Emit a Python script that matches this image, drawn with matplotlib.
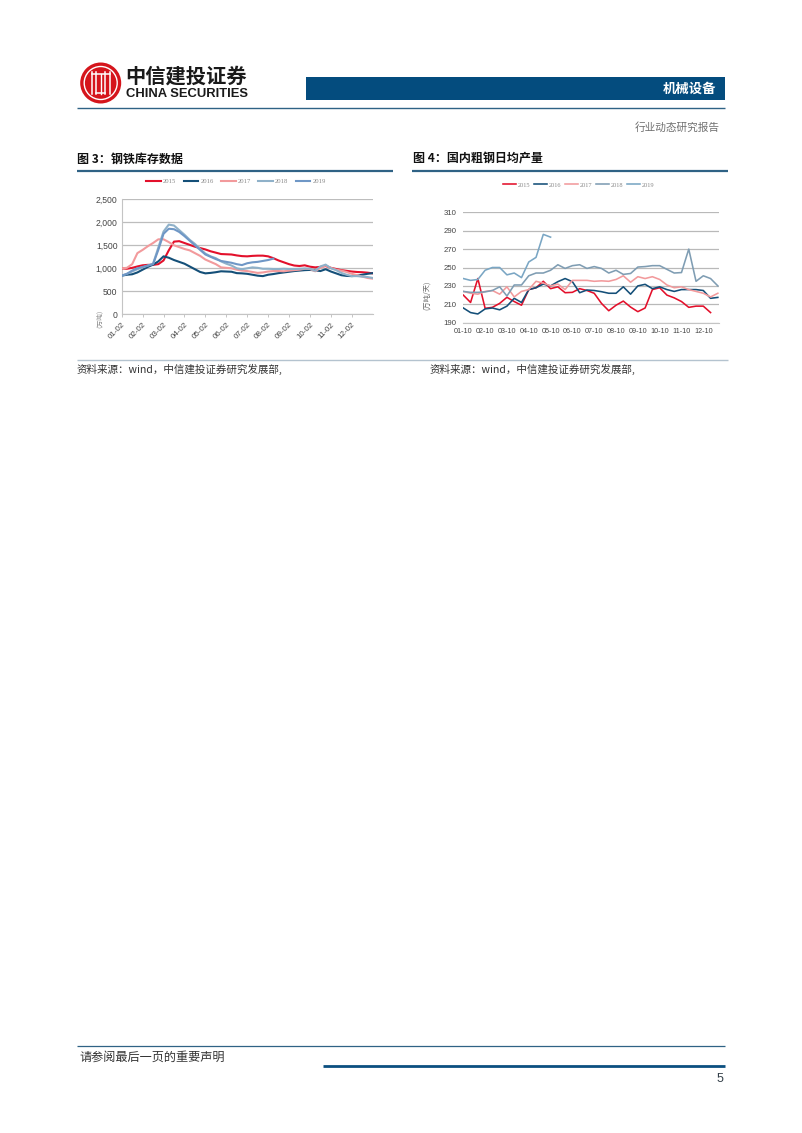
import matplotlib
matplotlib.use('Agg')
import matplotlib.pyplot as plt
from matplotlib.patches import Circle, Rectangle

plt.rcParams['font.family'] = ['Liberation Sans', 'Noto Sans CJK SC', 'DejaVu Sans']
CJK = ['Noto Sans CJK SC', 'DejaVu Sans']
W, H = 802, 1133

# ---- Figure 3: steel inventory (quarter-month samples) ----
inv_months = [i * 0.25 for i in range(49)]
inv_2015 = [1000, 990, 1010, 1040, 1065, 1075, 1075, 1090, 1170, 1390, 1580, 1590,
            1550, 1510, 1470, 1440, 1410, 1370, 1340, 1310, 1305, 1300, 1280, 1265,
            1260, 1270, 1275, 1275, 1260, 1220, 1170, 1130, 1090, 1060, 1050, 1065,
            1035, 1020, 1030, 1050, 1010, 985, 960, 945, 930, 920, 915, 905, 890]
inv_2016 = [840, 860, 870, 910, 970, 1030, 1080, 1150, 1260, 1230, 1180, 1140,
            1100, 1040, 980, 920, 890, 900, 915, 935, 930, 925, 895, 890,
            880, 860, 840, 830, 860, 875, 895, 910, 925, 940, 950, 960,
            965, 955, 940, 980, 930, 890, 850, 835, 830, 840, 860, 880, 895]
inv_2017 = [1000, 1010, 1090, 1330, 1400, 1480, 1550, 1630, 1630, 1570, 1500, 1460,
            1420, 1390, 1330, 1270, 1190, 1140, 1090, 1020, 1010, 1000, 970, 950,
            940, 920, 900, 910, 930, 940, 940, 935, 950, 960, 970, 990,
            985, 935, 1010, 1060, 1010, 970, 950, 920, 880, 850, 820, 790, 775]
inv_2018 = [840, 880, 930, 980, 1020, 1060, 1100, 1450, 1800, 1950, 1930, 1830,
            1730, 1620, 1530, 1420, 1320, 1260, 1220, 1150, 1100, 1060, 1000, 980,
            1000, 1020, 1010, 990, 990, 985, 985, 990, 985, 985, 990, 995,
            990, 945, 1040, 1080, 1000, 960, 900, 860, 830, 830, 820, 810, 790]
inv_2019 = [840, 880, 950, 1000, 1030, 1060, 1090, 1400, 1750, 1860, 1850, 1790,
            1700, 1600, 1500, 1400, 1300, 1250, 1200, 1160, 1140, 1120, 1090, 1070,
            1110, 1130, 1140, 1160, 1180, 1210]
inv_ticks = ['01-02', '02-02', '03-02', '04-02', '05-02', '06-02',
             '07-02', '08-02', '09-02', '10-02', '11-02', '12-02']
inv_yticks = [0, 500, 1000, 1500, 2000, 2500]
inv_ylabels = ['0', '500', '1,000', '1,500', '2,000', '2,500']

# ---- Figure 4: daily crude steel output (ten-day samples) ----
out_2015 = [220, 212, 238, 205.6, 206.7, 211, 217.6, 213, 209, 226, 228, 235,
            227, 229, 222.6, 223, 227, 225, 222, 211, 203, 209, 213.5, 207,
            202, 206, 226, 228, 220, 217, 213, 206.7, 208, 208, 201]
out_2016 = [206, 201, 199.5, 205, 206, 204, 208, 216.5, 212, 226, 228, 232,
            230, 234.6, 238, 234.6, 222.6, 225.5, 225, 223.7, 222, 222, 229, 221,
            230, 231.7, 227, 229, 226, 224, 226, 226, 226, 225, 216.5, 217.5]
out_2017 = [224, 222, 221, 224, 225, 221, 229, 218, 224, 226, 235, 233,
            230, 232, 226, 236, 236, 236, 235, 235.5, 235, 237, 241, 234,
            240, 238, 240, 237, 231, 228, 229, 226, 224, 222, 218, 222]
out_2018 = [224, 223, 223, 223.5, 225, 229, 219, 231, 231, 241, 244, 244,
            247, 253, 249, 252, 253, 249, 251, 249, 244, 247, 242.5, 243.5,
            250.5, 251, 252, 252, 248, 244, 244.5, 270, 235, 241, 238, 230]
out_2019 = [238, 236, 237, 247, 250, 250, 242, 244, 239, 256, 261, 286, 283]
out_ticks = ['01-10', '02-10', '03-10', '04-10', '05-10', '06-10',
             '07-10', '08-10', '09-10', '10-10', '11-10', '12-10']
out_yticks = [190, 210, 230, 250, 270, 290, 310]
years = ['2015', '2016', '2017', '2018', '2019']

fig = plt.figure(figsize=(W / 100, H / 100), dpi=100, facecolor='white')

def px_axes(x0, y0, x1, y1):
    return fig.add_axes([x0 / W, 1 - y1 / H, (x1 - x0) / W, (y1 - y0) / H])

# page overlay in pixel coordinates
pg = fig.add_axes([0, 0, 1, 1], zorder=0)
pg.set_xlim(0, W); pg.set_ylim(H, 0); pg.axis('off')

def rule(x0, x1, y, c='#2f6285', lw=1.0):
    pg.plot([x0, x1], [y, y], color=c, lw=lw, solid_capstyle='butt')

# logo
pg.add_patch(Circle((100.7, 83), 20.5, fc='#d5151c', ec='none'))
pg.add_patch(Circle((100.7, 83), 16.5, fc='none', ec='white', lw=1.0))
for dx in (-9, -4.5, 4.5, 9):
    pg.plot([100.7 + dx, 100.7 + dx], [72, 94], color='white', lw=1.1)
pg.plot([91.7, 109.7], [73.5, 73.5], color='white', lw=1.1)
pg.plot([96.2, 105.2], [92.5, 92.5], color='white', lw=1.1)
pg.add_patch(Rectangle((96.9, 76), 7.6, 20, fc='#d5151c', ec='none'))
pg.plot([100.7, 100.7], [74, 94], color='white', lw=1.0)
pg.text(125, 76.5, '中信建投证券', family=CJK, fontsize=14.6, fontweight='bold',
        color='#1a1a1a', va='center', ha='left')
pg.text(125.5, 94, 'CHINA SECURITIES', fontsize=9.35, fontweight='bold',
        color='#1a1a1a', va='center', ha='left')

# header
pg.add_patch(Rectangle((306, 77), 419, 23, fc='#044c7e', ec='none'))
pg.text(716, 89, '机械设备', family=CJK, fontsize=9.6, fontweight='bold', color='white',
        va='center', ha='right')
rule(77, 725, 107.5, lw=1.0)
pg.text(720, 127, '行业动态研究报告', family=CJK, fontsize=7.7, color='#707070',
        va='center', ha='right')

# section titles
pg.text(77, 159, '图 3：钢铁库存数据', family=CJK, fontsize=8.65, fontweight='bold',
        color='#111111', va='center', ha='left')
pg.text(413, 159, '图 4：国内粗钢日均产量', family=CJK, fontsize=8.65, fontweight='bold',
        color='#111111', va='center', ha='left')
rule(77, 393, 170.5, lw=1.6)
rule(412, 728, 170.5, lw=1.6)

# sources
rule(77, 728, 359.5, c='#b4c3cf', lw=1.0)
pg.text(77, 369.5, '资料来源：wind，中信建投证券研究发展部,', family=CJK, fontsize=7.6,
        color='#333333', va='center', ha='left')
pg.text(430, 369.5, '资料来源：wind，中信建投证券研究发展部,', family=CJK, fontsize=7.6,
        color='#333333', va='center', ha='left')

# footer
rule(77, 725, 1046, lw=0.9)
pg.text(79, 1057.5, '请参阅最后一页的重要声明', family=CJK, fontsize=8.75, color='#333333',
        va='center', ha='left')
rule(323, 725, 1065.5, c='#0b4f80', lw=2.0)
pg.text(723, 1079, '5', fontsize=9, color='#333f48', va='center', ha='right')

colors = ['#e3102b', '#144f78', '#f29a9c', '#8fb1c9', '#6f97c6']

# left chart
ax = px_axes(121.7, 199.3, 372.7, 314.3)
for yr, vals, c in zip(years, [inv_2015, inv_2016, inv_2017, inv_2018, inv_2019], colors):
    ax.plot(inv_months[:len(vals)], vals, color=c, lw=1.5, label=yr, zorder=3)
ax.set_xlim(0, 12); ax.set_ylim(0, 2500)
ax.set_yticks(inv_yticks, inv_ylabels)
ax.set_xticks(range(12), inv_ticks, rotation=45, ha='right', rotation_mode='anchor')
ax.grid(axis='y', color='#bdbdbd', lw=0.9)
ax.set_axisbelow(True)
for s in ('top', 'right'):
    ax.spines[s].set_visible(False)
for s in ('left', 'bottom'):
    ax.spines[s].set_color('#c4c4c4'); ax.spines[s].set_linewidth(0.8)
ax.tick_params(axis='y', length=0, labelsize=6.2, labelcolor='#444444', pad=3)
ax.tick_params(axis='x', length=2, width=0.6, color='#bbbbbb', labelsize=5.8,
               labelcolor='#444444', pad=3)
ax.patch.set_alpha(0)
fig.text(96 / W, 1 - 315 / H, '（万吨）', family=CJK, fontsize=4.8, color='#888888',
         rotation=90, ha='center', va='center')
ax.legend(loc='center', bbox_to_anchor=((236 - 121.7) / 251, (199.3 - 181.3) / 115 + 1),
          ncol=5, frameon=False, labelcolor='#888888', handlelength=2.2,
          columnspacing=1.1, handletextpad=0.3, borderpad=0,
          prop={'family': 'Liberation Serif', 'size': 4.8})

# right chart
ax2 = px_axes(463.3, 212.3, 719.3, 322.7)
for yr, vals, c in zip(years, [out_2015, out_2016, out_2017, out_2018, out_2019],
                       ['#e3102b', '#144f78', '#f29a9c', '#7f9db3', '#7aa6c4']):
    ax2.plot(range(len(vals)), vals, color=c, lw=1.15, label=yr, zorder=3)
ax2.set_xlim(0, 35.2); ax2.set_ylim(190, 310)
ax2.set_yticks(out_yticks)
ax2.set_xticks([i * 3 for i in range(12)], out_ticks)
ax2.grid(axis='y', color='#b9b9b9', lw=0.9)
ax2.set_axisbelow(True)
for s in ('top', 'right', 'left'):
    ax2.spines[s].set_visible(False)
ax2.spines['bottom'].set_color('#c4c4c4'); ax2.spines['bottom'].set_linewidth(0.8)
ax2.tick_params(axis='y', length=0, labelsize=5.6, labelcolor='#444444', pad=5)
ax2.tick_params(axis='x', length=0, labelsize=5.2, labelcolor='#444444', pad=3.5)
ax2.patch.set_alpha(0)
fig.text(427 / W, 1 - 295 / H, '(万吨/天)', family=CJK, fontsize=5.2, color='#666666',
         rotation=90, ha='center', va='center')
ax2.legend(loc='center', bbox_to_anchor=((579 - 463.3) / 256, (212.3 - 185) / 110.4 + 1),
           ncol=5, frameon=False, labelcolor='#888888', handlelength=2.0,
           columnspacing=0.6, handletextpad=0.3, borderpad=0,
           prop={'family': 'Liberation Serif', 'size': 4.6})

fig.savefig('out.png', dpi=100, facecolor='white')
